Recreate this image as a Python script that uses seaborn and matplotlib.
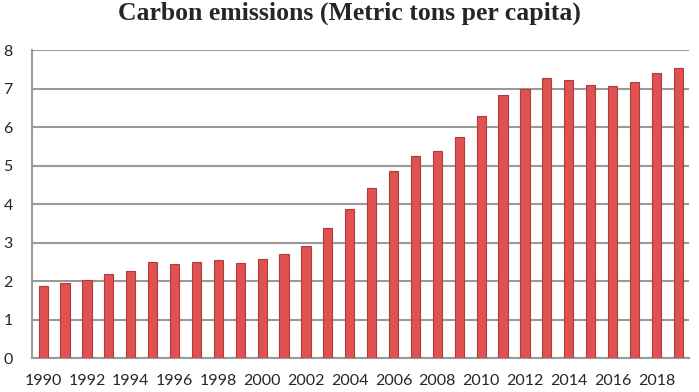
import matplotlib; matplotlib.use('Agg')
import numpy as np
import pandas as pd
import seaborn as sns
import matplotlib.pyplot as plt
from matplotlib.transforms import ScaledTranslation

years = list(range(1990, 2020))
emissions = [1.88, 1.95, 2.03, 2.20, 2.27, 2.50, 2.46, 2.50, 2.55, 2.47,
             2.58, 2.72, 2.92, 3.38, 3.88, 4.42, 4.85, 5.24, 5.38, 5.74,
             6.28, 6.84, 6.98, 7.27, 7.23, 7.09, 7.07, 7.17, 7.42, 7.55]
y_ticks = [0, 1, 2, 3, 4, 5, 6, 7, 8]

df = pd.DataFrame({'year': [str(y) for y in years], 'value': emissions})

sns.set_style('white')
plt.rcParams['font.family'] = ['Lato', 'DejaVu Sans']

fig = plt.figure(figsize=(6.99, 3.92), dpi=100)
ax = fig.add_axes([0.046, 0.086, 0.94, 0.786])

sns.barplot(data=df, x='year', y='value', color='#e05252', saturation=1,
            width=0.42, edgecolor='#b33a3a', linewidth=0.8, ax=ax, zorder=3)

ax.set_ylim(0, 8)
ax.set_yticks(y_ticks)
ax.set_yticklabels([str(t) for t in y_ticks], fontsize=11.5)
ax.yaxis.grid(True, color='#9a9a9a', linewidth=1.5, zorder=0)
ax.set_axisbelow(True)

ax.set_xticks(range(0, len(years), 2))
ax.set_xticklabels([str(y) for y in years[::2]], fontsize=11.5)
shift = ScaledTranslation(-5 / 100, 0, fig.dpi_scale_trans)
for lbl in ax.get_xticklabels():
    lbl.set_transform(lbl.get_transform() + shift)

ax.tick_params(axis='x', length=0, pad=11)
ax.tick_params(axis='y', length=0, pad=14)
ax.set_xlabel('')
ax.set_ylabel('')
for s in ['top', 'right']:
    ax.spines[s].set_visible(False)
ax.spines['left'].set_color('#9a9a9a')
ax.spines['left'].set_linewidth(1.5)
ax.spines['bottom'].set_color('#9a9a9a')
ax.spines['bottom'].set_linewidth(1.5)

fig.suptitle('Carbon emissions (Metric tons per capita)', x=0.5, y=0.995,
             fontsize=18.5, fontweight='bold', family='Liberation Serif')

fig.savefig('out.png', dpi=100)
plt.close(fig)
